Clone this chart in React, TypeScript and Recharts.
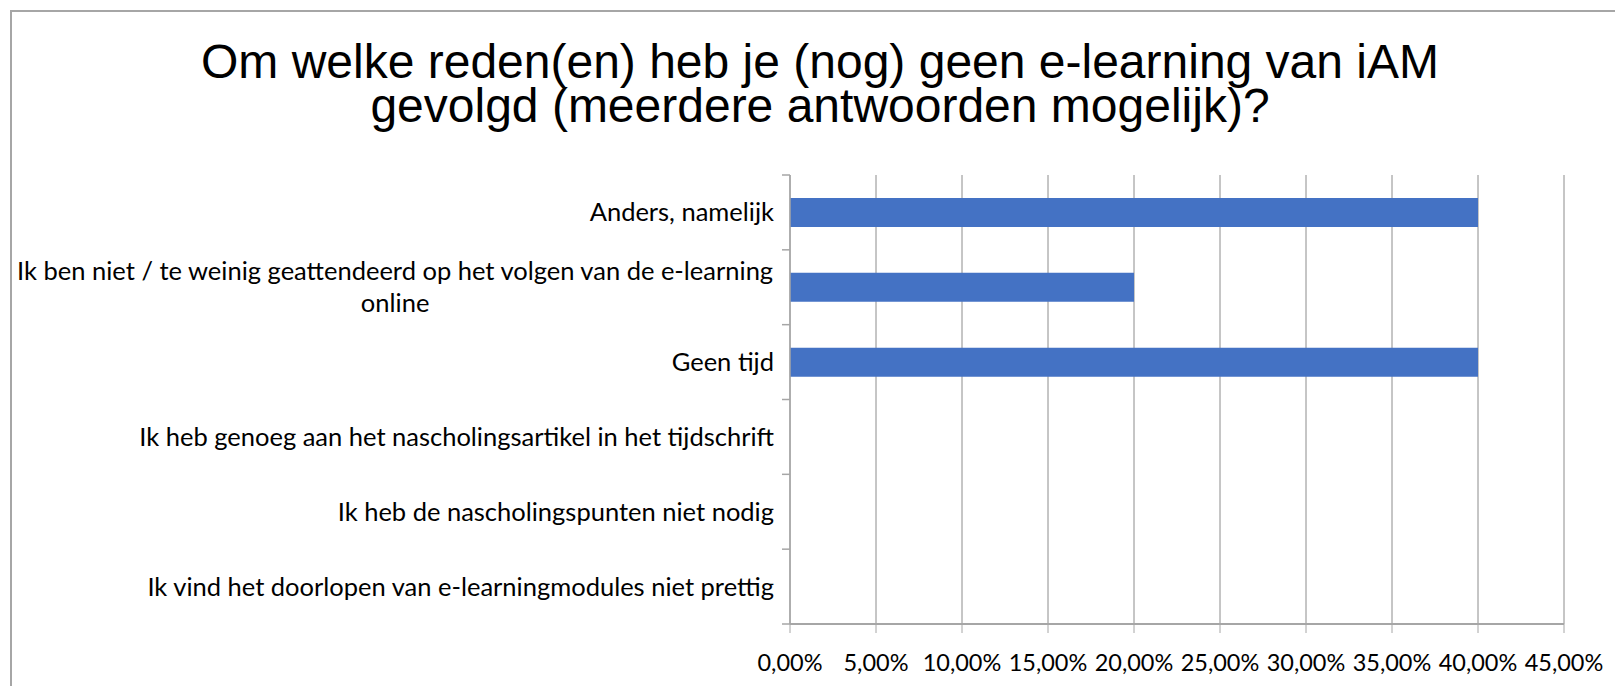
import React from "react";
import { BarChart, Bar, XAxis, YAxis, CartesianGrid } from "recharts";

const reasons = [
  "Anders, namelijk",
  "Ik ben niet / te weinig geattendeerd op het volgen van de e-learning\nonline",
  "Geen tijd",
  "Ik heb genoeg aan het nascholingsartikel in het tijdschrift",
  "Ik heb de nascholingspunten niet nodig",
  "Ik vind het doorlopen van e-learningmodules niet prettig",
];
const shares = [40, 20, 40, 0, 0, 0];
const xTicks = [0, 5, 10, 15, 20, 25, 30, 35, 40, 45];
const titleLines = [
  "Om welke reden(en) heb je (nog) geen e-learning van iAM",
  "gevolgd (meerdere antwoorden mogelijk)?",
];

const W = 1615;
const H = 686;
const margin = { top: 175, right: 51, bottom: 12, left: 20 };
const Y_AXIS_W = 770;
const X_AXIS_H = 50;
const AXIS_X = margin.left + Y_AXIS_W;
const BAND = (H - margin.top - margin.bottom - X_AXIS_H) / reasons.length;
const LABEL_FONT = "Lato, sans-serif";
const LABEL_SIZE = 25.5;
const TICK_SIZE = 23.5;

const data = reasons.map((r, i) => ({ reason: r, share: shares[i] }));

let ctx: CanvasRenderingContext2D | null = null;
function measure(s: string) {
  if (!ctx) ctx = document.createElement("canvas").getContext("2d");
  if (!ctx) return s.length * LABEL_SIZE * 0.45;
  ctx.font = `${LABEL_SIZE}px Lato`;
  return ctx.measureText(s).width;
}

const fmt = (v: number) => v.toFixed(2).replace(".", ",") + "%";

// category label, multi-line labels centred on their widest line; ticks sit on band edges
function ReasonTick(props: any) {
  const { y, payload, index } = props;
  const lines: string[] = String(payload.value).split("\n");
  const right = AXIS_X - 16;
  const lh = 32;
  const widest = Math.max(...lines.map(measure));
  const cx = right - widest / 2;
  const y0 = y - ((lines.length - 1) * lh) / 2;
  return (
    <g>
      <line x1={AXIS_X - 8} x2={AXIS_X} y1={y - BAND / 2} y2={y - BAND / 2} stroke="#a6a6a6" strokeWidth={1.5} />
      {index === reasons.length - 1 && (
        <line x1={AXIS_X - 8} x2={AXIS_X} y1={y + BAND / 2} y2={y + BAND / 2} stroke="#a6a6a6" strokeWidth={1.5} />
      )}
      {lines.map((ln, i) => (
        <text
          key={i}
          x={lines.length > 1 ? cx : right}
          y={y0 + i * lh}
          dy="0.35em"
          textAnchor={lines.length > 1 ? "middle" : "end"}
          fontFamily={LABEL_FONT}
          fontSize={LABEL_SIZE}
          fill="#000"
        >
          {ln}
        </text>
      ))}
    </g>
  );
}

export default function App() {
  return (
    <div style={{ position: "absolute", left: 0, top: 0, width: W, height: H, background: "#fff", overflow: "hidden" }}>
      <div
        style={{
          position: "absolute",
          left: 10,
          top: 10,
          width: W,
          height: H,
          borderLeft: "2px solid #a6a6a6",
          borderTop: "2px solid #a6a6a6",
        }}
      />
      {titleLines.map((t, i) => (
        <div
          key={i}
          style={{
            position: "absolute",
            left: 20,
            width: 1600,
            top: 40 + i * 44,
            height: 44,
            textAlign: "center",
            fontFamily: "'Liberation Sans', Arial, sans-serif",
            fontSize: 48,
            lineHeight: "44px",
            color: "#000",
            whiteSpace: "nowrap",
          }}
        >
          {t}
        </div>
      ))}
      <div style={{ position: "absolute", left: 0, top: 0 }}>
        <BarChart width={W} height={H} data={data} layout="vertical" margin={margin}>
          <CartesianGrid horizontal={false} stroke="#8c8c8c" strokeWidth={1} />
          <XAxis
            type="number"
            domain={[0, 45]}
            ticks={xTicks}
            tickFormatter={fmt}
            interval={0}
            height={X_AXIS_H}
            axisLine={{ stroke: "#a6a6a6", strokeWidth: 2 }}
            tickLine={{ stroke: "#a6a6a6" }}
            tickSize={9}
            tickMargin={21}
            tick={{ fill: "#000", fontSize: TICK_SIZE, fontFamily: LABEL_FONT }}
          />
          <YAxis
            type="category"
            dataKey="reason"
            width={Y_AXIS_W}
            interval={0}
            axisLine={{ stroke: "#a6a6a6", strokeWidth: 1.5 }}
            tickLine={false}
            tick={<ReasonTick />}
          />
          <Bar dataKey="share" fill="#4472c4" barSize={29} isAnimationActive={false} />
        </BarChart>
      </div>
    </div>
  );
}
